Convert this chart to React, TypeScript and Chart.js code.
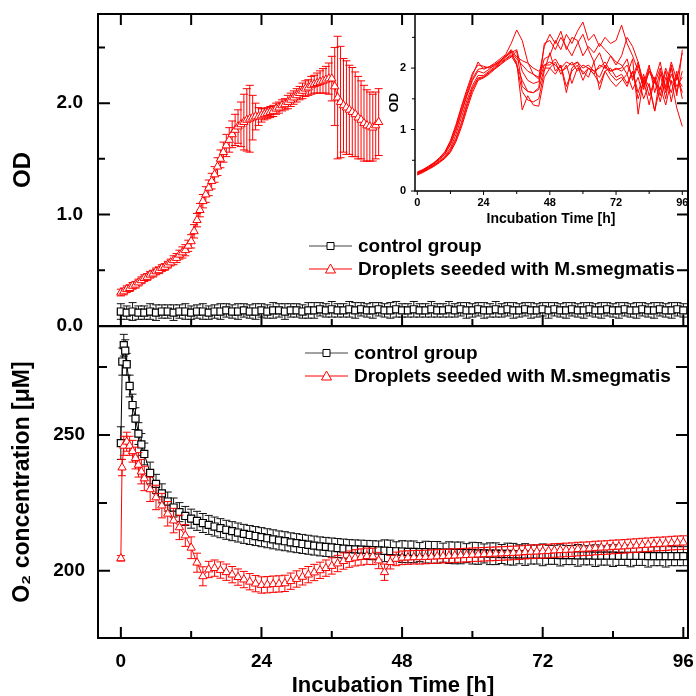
import React, { useEffect, useRef } from 'react';
import { Chart, registerables } from 'chart.js';

Chart.register(...registerables);

const FONT = "'Liberation Sans', Arial, Helvetica, sans-serif";
Chart.defaults.font.family = FONT;
Chart.defaults.color = '#000';

// ---------------- data ----------------
const hours = [
  0, 1, 2, 3, 4, 5, 6, 7, 8, 9, 10, 11, 12, 13, 14, 15, 16, 17, 18, 19, 20, 21, 22, 23, 24,
  25, 26, 27, 28, 29, 30, 31, 32, 33, 34, 35, 36, 37, 38, 39, 40, 41, 42, 43, 44, 45, 46, 47, 48,
  49, 50, 51, 52, 53, 54, 55, 56, 57, 58, 59, 60, 61, 62, 63, 64, 65, 66, 67, 68, 69, 70, 71, 72,
  73, 74, 75, 76, 77, 78, 79, 80, 81, 82, 83, 84, 85, 86, 87, 88, 89, 90, 91, 92, 93, 94, 95, 96,
];

// OD, control group (t = 0..96 h)
const odControl = [
  0.13, 0.12, 0.13, 0.12, 0.12, 0.13, 0.12, 0.13, 0.13, 0.12,
  0.13, 0.13, 0.12, 0.13, 0.13, 0.12, 0.13, 0.13, 0.14, 0.13,
  0.13, 0.14, 0.13, 0.13, 0.14, 0.13, 0.14, 0.14, 0.13, 0.14,
  0.14, 0.13, 0.14, 0.14, 0.15, 0.14, 0.15, 0.14, 0.14, 0.15,
  0.14, 0.15, 0.14, 0.14, 0.15, 0.14, 0.14, 0.15, 0.14, 0.14,
  0.15, 0.14, 0.14, 0.15, 0.14, 0.14, 0.15, 0.14, 0.15, 0.14,
  0.14, 0.15, 0.14, 0.14, 0.15, 0.14, 0.15, 0.14, 0.14, 0.15,
  0.14, 0.14, 0.15, 0.14, 0.15, 0.14, 0.14, 0.15, 0.14, 0.14,
  0.15, 0.14, 0.14, 0.15, 0.14, 0.14, 0.15, 0.14, 0.14, 0.15,
  0.14, 0.14, 0.15, 0.14, 0.14, 0.15, 0.14,
];
const odControlErr = [
  0.07, 0.06, 0.08, 0.06, 0.06, 0.07, 0.07, 0.06, 0.06, 0.07,
  0.06, 0.07, 0.06, 0.06, 0.07, 0.06, 0.06, 0.07, 0.06, 0.06,
  0.07, 0.06, 0.06, 0.07, 0.06, 0.06, 0.07, 0.06, 0.07, 0.06,
  0.06, 0.06, 0.07, 0.07, 0.06, 0.06, 0.07, 0.06, 0.06, 0.07,
  0.07, 0.06, 0.06, 0.07, 0.06, 0.06, 0.07, 0.07, 0.06, 0.06,
  0.07, 0.06, 0.06, 0.07, 0.06, 0.06, 0.07, 0.06, 0.06, 0.07,
  0.06, 0.06, 0.07, 0.06, 0.07, 0.06, 0.06, 0.07, 0.06, 0.06,
  0.07, 0.06, 0.06, 0.07, 0.06, 0.06, 0.07, 0.06, 0.06, 0.07,
  0.06, 0.06, 0.07, 0.06, 0.06, 0.07, 0.06, 0.06, 0.07, 0.06,
  0.06, 0.07, 0.06, 0.06, 0.07, 0.06, 0.06,
];

// OD, droplets seeded with M.smegmatis (t = 0..44 h, every 0.5 h)
const odDropletHours = [
  0, 0.5, 1, 1.5, 2, 2.5, 3, 3.5, 4, 4.5, 5, 5.5, 6, 6.5, 7, 7.5, 8, 8.5, 9, 9.5,
  10, 10.5, 11, 11.5, 12, 12.5, 13, 13.5, 14, 14.5, 15, 15.5, 16, 16.5, 17, 17.5, 18, 18.5, 19, 19.5,
  20, 20.5, 21, 21.5, 22, 22.5, 23, 23.5, 24, 24.5, 25, 25.5, 26, 26.5, 27, 27.5, 28, 28.5, 29, 29.5,
  30, 30.5, 31, 31.5, 32, 32.5, 33, 33.5, 34, 34.5, 35, 35.5, 36, 36.5, 37, 37.5, 38, 38.5, 39, 39.5,
  40, 40.5, 41, 41.5, 42, 42.5, 43, 43.5, 44,
];
const odDroplets = [
  0.30, 0.31, 0.33, 0.34, 0.36, 0.37, 0.39, 0.41, 0.43, 0.44,
  0.46, 0.47, 0.49, 0.50, 0.52, 0.53, 0.55, 0.57, 0.59, 0.61,
  0.64, 0.66, 0.68, 0.72, 0.76, 0.85, 0.95, 1.04, 1.12, 1.18,
  1.24, 1.30, 1.36, 1.43, 1.50, 1.56, 1.62, 1.67, 1.72, 1.76,
  1.79, 1.81, 1.83, 1.85, 1.86, 1.87, 1.88, 1.88, 1.89, 1.90,
  1.91, 1.92, 1.93, 1.95, 1.96, 1.98, 1.99, 2.01, 2.03, 2.05,
  2.07, 2.09, 2.11, 2.13, 2.14, 2.16, 2.17, 2.18, 2.19, 2.20,
  2.21, 2.22, 2.22, 2.15, 2.05, 2.01, 1.98, 1.96, 1.94, 1.92,
  1.90, 1.87, 1.85, 1.82, 1.80, 1.79, 1.78, 1.80, 1.83,
];
const odDropletsErr = [
  0.03, 0.03, 0.03, 0.03, 0.03, 0.03, 0.03, 0.03, 0.03, 0.03,
  0.03, 0.03, 0.03, 0.03, 0.03, 0.03, 0.03, 0.03, 0.04, 0.04,
  0.04, 0.05, 0.05, 0.05, 0.06, 0.06, 0.06, 0.06, 0.06, 0.07,
  0.07, 0.07, 0.07, 0.08, 0.08, 0.09, 0.10, 0.11, 0.12, 0.14,
  0.15, 0.20, 0.25, 0.28, 0.30, 0.20, 0.12, 0.08, 0.06, 0.05,
  0.05, 0.05, 0.05, 0.05, 0.05, 0.05, 0.05, 0.06, 0.06, 0.06,
  0.06, 0.06, 0.07, 0.07, 0.07, 0.08, 0.08, 0.09, 0.10, 0.11,
  0.12, 0.14, 0.20, 0.35, 0.55, 0.50, 0.42, 0.42, 0.40, 0.40,
  0.38, 0.37, 0.35, 0.34, 0.32, 0.31, 0.30, 0.30, 0.30,
];

// O2 concentration, control group
const o2ControlHours = [0, 0.25, 0.5, 0.75, 1, 1.5, 2, 2.5, 3, 3.5, 4, ...hours.slice(5)];
const o2Control = [
  247, 277, 283, 281, 276, 268, 261, 256, 250.5, 246.5, 243,
  236, 232, 228.5, 225.5, 223.3, 221.6, 220.2, 219.2, 218.4, 217.6,
  216.9, 216.3, 215.7, 215.1, 214.6, 214.1, 213.6, 213.2, 212.8, 212.4,
  212.0, 211.6, 211.2, 210.9, 210.5, 210.2, 209.9, 209.6, 209.3, 209.0,
  208.8, 208.6, 208.4, 208.2, 208.0, 207.9, 207.8, 207.7, 207.6, 207.5,
  207.4, 207.3, 207.2, 207.1, 207.0, 207.0, 206.9, 206.9, 206.8, 206.8,
  206.7, 206.7, 206.6, 206.6, 206.5, 206.5, 206.4, 206.4, 206.3, 206.3,
  206.2, 206.2, 206.1, 206.1, 206.0, 206.0, 206.0, 205.9, 205.9, 205.9,
  205.8, 205.8, 205.8, 205.7, 205.7, 205.7, 205.6, 205.6, 205.6, 205.6,
  205.5, 205.5, 205.5, 205.5, 205.5, 205.4, 205.4, 205.4, 205.4, 205.4,
  205.4, 205.4,
];
const o2ControlErr = [
  6, 5, 4, 4, 4, 4, 4, 4, 4, 4, 4,
  4, 3.5, 3.5, 3.5, 3.5, 3.5, 3.5, 3.5, 3.5, 3.5,
  3.5, 3.5, 3.5, 3.5, 3.5, 3.5, 3.5, 3.5, 3.5, 3.5,
  3.5, 3.5, 3.5, 3.5, 3.5, 3.5, 3.5, 3.5, 3.5, 3.5,
  3.5, 3.5, 3.5, 3.5, 3.5, 3.5, 3.5, 3.5, 3.5, 3.5,
  4, 4, 3.5, 4, 4, 4, 3.5, 4, 4, 4,
  3.5, 4, 4, 4, 3.5, 4, 4, 3.5, 4, 4,
  3.5, 4, 4, 3.5, 4, 3.5, 3.5, 4, 3.5, 3.5,
  4, 3.5, 3.5, 4, 3.5, 3.5, 4, 3.5, 3.5, 4,
  3.5, 3.5, 4, 3.5, 3.5, 4, 3.5, 3.5, 4, 3.5,
  3.5, 3.5,
];

// O2 concentration, droplets seeded with M.smegmatis
const o2DropletHours = [0, 0.2, 0.5, 1, 1.5, 2, 2.5, 3, 3.5, 4, ...hours.slice(5)];
const o2Droplets = [
  204.6, 238, 246, 247.5, 246, 244, 241.5, 239, 236.5, 234,
  230, 227, 224, 221, 218.5, 216, 213, 208.5, 203, 198,
  200.5, 201, 200.3, 199.5, 198.6, 197.7, 196.8, 196, 195.3, 194.8,
  194.9, 195.1, 195.2, 195.4, 196.2, 197, 197.8, 198.6, 199.4, 200.2,
  201, 201.8, 202.7, 203.6, 204.3, 204.8, 205.1, 205.4, 205.3, 203.8,
  199.5, 203.2, 204.4, 204.8, 204.9, 205.0, 205.0, 205.1, 205.2, 205.3,
  205.4, 205.5, 205.6, 205.7, 205.8, 205.9, 206.0, 206.1, 206.2, 206.3,
  206.4, 206.5, 206.6, 206.7, 206.9, 207.0, 207.1, 207.2, 207.3, 207.5,
  207.6, 207.7, 207.8, 208.0, 208.1, 208.2, 208.4, 208.5, 208.6, 208.8,
  208.9, 209.0, 209.2, 209.3, 209.5, 209.6, 209.8, 209.9, 210.0, 210.2,
  210.3, 210.4,
];
const o2DropletsErr = [
  1, 3, 3.5, 3.5, 3.5, 4, 4, 4.5, 4.5, 4.5,
  4.5, 4.5, 4.5, 4.5, 4.5, 4.5, 4, 4, 3.5, 3.5,
  3, 3, 3, 3, 3, 3, 3, 3, 3, 3,
  3, 3, 3, 3, 3, 3, 3, 3, 3, 3,
  3, 3, 3, 3, 3, 3, 3, 3, 3, 3,
  3, 2.5, 2.5, 2.5, 2.5, 2.5, 2.5, 2.5, 2.5, 2.5,
  2.5, 2.5, 2.5, 2.5, 2.5, 2.5, 2.5, 2.5, 2.5, 2.5,
  2.5, 2.5, 2.5, 2.5, 2.5, 2.5, 2.5, 2.5, 2.5, 2.5,
  2.5, 2.5, 2.5, 2.5, 2.5, 2.5, 2.5, 2.5, 2.5, 2.5,
  2.5, 2.5, 2.5, 2.5, 2.5, 2.5, 2.5, 2.5, 2.5, 2.5,
  2.5, 2.5,
];

// Inset: individual droplet OD curves (t = 0..96 h, every 2 h)
const insetHours = [
  0, 2, 4, 6, 8, 10, 12, 14, 16, 18, 20, 22, 24, 26, 28, 30, 32, 34, 36, 38, 40, 42, 44, 46, 48,
  50, 52, 54, 56, 58, 60, 62, 64, 66, 68, 70, 72, 74, 76, 78, 80, 82, 84, 86, 88, 90, 92, 94, 96,
];
const dropletA = [0.30, 0.34, 0.40, 0.46, 0.53, 0.63, 0.80, 1.05, 1.35, 1.62, 1.88, 2.10, 1.98, 2.02, 2.08, 2.15, 2.22, 2.40, 2.62, 2.45, 2.10, 1.90, 1.85, 2.35, 2.55, 2.40, 2.60, 2.30, 2.50, 2.45, 2.20, 2.35, 2.25, 2.40, 2.30, 2.20, 2.05, 2.20, 2.50, 2.35, 2.10, 1.75, 2.05, 1.60, 1.95, 1.70, 2.10, 1.80, 2.25];
const dropletB = [0.28, 0.33, 0.38, 0.44, 0.51, 0.60, 0.75, 0.98, 1.27, 1.55, 1.80, 1.95, 1.92, 1.98, 2.05, 2.12, 2.20, 2.28, 2.05, 1.62, 1.48, 1.45, 1.50, 1.95, 2.25, 1.95, 2.05, 1.60, 2.00, 2.10, 1.90, 2.00, 1.95, 1.85, 2.05, 1.90, 1.80, 1.85, 1.70, 1.95, 1.50, 1.80, 1.40, 1.85, 1.55, 1.95, 1.45, 1.90, 1.60];
const dropletC = [0.27, 0.32, 0.37, 0.42, 0.49, 0.57, 0.70, 0.92, 1.20, 1.48, 1.72, 1.88, 1.88, 1.95, 2.02, 2.10, 2.18, 2.25, 2.30, 1.95, 1.80, 1.75, 1.78, 2.05, 2.10, 2.05, 1.95, 2.00, 2.10, 1.95, 2.05, 2.00, 1.90, 2.05, 2.00, 1.95, 1.98, 2.00, 2.15, 1.80, 2.05, 1.65, 1.95, 1.75, 2.00, 1.60, 1.90, 1.70, 1.85];
const dropletD = [0.29, 0.33, 0.37, 0.42, 0.48, 0.55, 0.67, 0.86, 1.12, 1.42, 1.68, 1.84, 1.86, 1.93, 2.00, 2.08, 2.15, 2.22, 2.10, 1.32, 1.55, 1.40, 1.38, 1.85, 2.00, 2.10, 1.90, 2.05, 1.75, 2.00, 1.95, 1.85, 2.10, 1.65, 1.95, 2.00, 1.85, 1.90, 1.75, 1.95, 1.60, 1.90, 1.55, 1.80, 1.45, 1.85, 1.60, 1.95, 1.50];
const dropletE = [0.30, 0.34, 0.39, 0.45, 0.52, 0.61, 0.77, 1.01, 1.30, 1.58, 1.83, 1.98, 2.00, 2.02, 2.06, 2.12, 2.20, 2.26, 2.15, 2.05, 1.95, 1.90, 1.82, 2.15, 2.20, 2.45, 2.30, 2.55, 2.40, 2.60, 2.75, 2.45, 2.55, 2.35, 2.50, 2.40, 2.45, 2.70, 2.40, 2.20, 1.95, 1.70, 2.00, 1.80, 1.65, 2.00, 1.75, 1.85, 1.70];
const dropletF = [0.26, 0.30, 0.35, 0.40, 0.46, 0.53, 0.63, 0.80, 1.04, 1.33, 1.60, 1.80, 1.84, 1.90, 1.98, 2.05, 2.12, 2.18, 2.28, 1.70, 1.62, 1.60, 1.68, 2.40, 2.45, 2.30, 2.50, 2.35, 2.20, 2.40, 2.55, 2.30, 2.10, 2.25, 2.00, 2.20, 2.10, 2.05, 1.90, 2.15, 1.25, 1.85, 1.70, 1.30, 1.90, 1.50, 2.05, 1.60, 1.95];
const dropletG = [0.31, 0.35, 0.40, 0.46, 0.54, 0.64, 0.82, 1.08, 1.38, 1.66, 1.92, 2.05, 2.03, 2.00, 2.04, 2.10, 2.18, 2.30, 2.18, 2.12, 2.08, 2.00, 1.95, 2.05, 2.05, 2.15, 2.00, 2.10, 2.05, 2.10, 2.00, 2.05, 1.95, 2.00, 2.10, 1.95, 2.00, 1.95, 2.05, 1.85, 2.10, 1.70, 1.95, 1.80, 2.10, 1.65, 2.00, 1.55, 2.30];
const dropletH = [0.27, 0.31, 0.36, 0.41, 0.47, 0.54, 0.65, 0.83, 1.08, 1.38, 1.65, 1.82, 1.85, 1.92, 1.99, 2.06, 2.14, 2.20, 2.05, 1.80, 1.62, 1.60, 1.65, 2.00, 2.00, 1.90, 2.05, 1.70, 1.95, 2.05, 1.80, 2.00, 1.90, 1.75, 1.95, 1.80, 1.70, 1.80, 1.90, 1.65, 1.85, 1.50, 1.75, 1.30, 1.70, 1.40, 1.80, 1.35, 1.05];
const insetSeries = [dropletA, dropletB, dropletC, dropletD, dropletE, dropletF, dropletG, dropletH];

// tick values
const xMajorTicks = [0, 24, 48, 72, 96];
const xMinorTicks = [12, 36, 60, 84];
const odMajorTicks = [0, 1, 2];
const odMinorTicks = [0.5, 1.5, 2.5];
const o2MajorTicks = [200, 250];
const o2MinorTicks = [225, 275];

const seriesLabels = ['control group', 'Droplets seeded with M.smegmatis'];

// ---------------- helpers ----------------
const toXY = (xs: number[], ys: number[]) => ys.map((y, i) => ({ x: xs[i], y }));

type TickSpec = { axis: string; edge: 'top' | 'bottom' | 'left' | 'right'; values: number[]; len: number; out?: boolean };

function makeFramePlugin(sides: string[], lineWidth: number, tickWidth: number, ticks: TickSpec[]) {
  return {
    id: 'frame',
    afterDraw(chart: any) {
      const { ctx, chartArea: ca } = chart;
      ctx.save();
      ctx.strokeStyle = '#000';
      ctx.lineWidth = lineWidth;
      ctx.lineCap = 'square';
      ctx.beginPath();
      for (const s of sides) {
        if (s === 'left') { ctx.moveTo(ca.left, ca.top); ctx.lineTo(ca.left, ca.bottom); }
        if (s === 'right') { ctx.moveTo(ca.right, ca.top); ctx.lineTo(ca.right, ca.bottom); }
        if (s === 'top') { ctx.moveTo(ca.left, ca.top); ctx.lineTo(ca.right, ca.top); }
        if (s === 'bottom') { ctx.moveTo(ca.left, ca.bottom); ctx.lineTo(ca.right, ca.bottom); }
      }
      ctx.stroke();
      ctx.lineCap = 'butt';
      ctx.lineWidth = tickWidth;
      ctx.beginPath();
      for (const t of ticks) {
        const scale = chart.scales[t.axis];
        const sign = t.out ? -1 : 1;
        for (const v of t.values) {
          const p = scale.getPixelForValue(v);
          if (t.edge === 'top') { ctx.moveTo(p, ca.top); ctx.lineTo(p, ca.top + sign * t.len); }
          if (t.edge === 'bottom') { ctx.moveTo(p, ca.bottom); ctx.lineTo(p, ca.bottom - sign * t.len); }
          if (t.edge === 'left') { ctx.moveTo(ca.left, p); ctx.lineTo(ca.left + sign * t.len, p); }
          if (t.edge === 'right') { ctx.moveTo(ca.right, p); ctx.lineTo(ca.right - sign * t.len, p); }
        }
      }
      ctx.stroke();
      ctx.restore();
    },
  };
}

const errorBarPlugin = {
  id: 'errorBars',
  beforeDatasetDraw(chart: any, args: any) {
    const ds: any = chart.data.datasets[args.index];
    const errs: number[] | undefined = ds.errorValues;
    if (!errs) return;
    const meta = args.meta;
    const xs = chart.scales[meta.xAxisID];
    const ys = chart.scales[meta.yAxisID];
    const { ctx, chartArea: ca } = chart;
    const cap = 4;
    ctx.save();
    ctx.beginPath();
    ctx.rect(ca.left, ca.top, ca.right - ca.left, ca.bottom - ca.top);
    ctx.clip();
    ctx.strokeStyle = ds.errorColor;
    ctx.lineWidth = 1;
    ctx.beginPath();
    ds.data.forEach((p: any, i: number) => {
      const e = errs[i];
      const x = xs.getPixelForValue(p.x);
      const yt = ys.getPixelForValue(p.y + e);
      const yb = ys.getPixelForValue(p.y - e);
      ctx.moveTo(x, yt); ctx.lineTo(x, yb);
      ctx.moveTo(x - cap, yt); ctx.lineTo(x + cap, yt);
      ctx.moveTo(x - cap, yb); ctx.lineTo(x + cap, yb);
    });
    ctx.stroke();
    ctx.restore();
  },
};

function makeLegendPlugin(x: number, y: number, rowGap: number) {
  return {
    id: 'miniLegend',
    afterDraw(chart: any) {
      const ctx = chart.ctx;
      ctx.save();
      chart.data.datasets.forEach((ds: any, i: number) => {
        const yy = y + i * rowGap;
        const lineLen = 43;
        ctx.strokeStyle = ds.legendLineColor;
        ctx.lineWidth = 1;
        ctx.beginPath();
        ctx.moveTo(x, yy);
        ctx.lineTo(x + lineLen, yy);
        ctx.stroke();
        const cx = x + lineLen / 2;
        ctx.fillStyle = '#fff';
        ctx.strokeStyle = ds.pointBorderColor;
        ctx.beginPath();
        if (ds.pointStyle === 'rect') {
          ctx.rect(cx - 3.5, yy - 3.5, 7, 7);
        } else {
          ctx.moveTo(cx, yy - 5);
          ctx.lineTo(cx + 5, yy + 4);
          ctx.lineTo(cx - 5, yy + 4);
          ctx.closePath();
        }
        ctx.fill();
        ctx.stroke();
        ctx.fillStyle = '#000';
        ctx.font = `bold 19px ${FONT}`;
        ctx.textAlign = 'left';
        ctx.textBaseline = 'middle';
        ctx.fillText(ds.label, x + lineLen + 6, yy + 1);
      });
      ctx.restore();
    },
  };
}

const controlStyle = {
  borderColor: '#000',
  borderWidth: 1,
  pointStyle: 'rect',
  pointRadius: 5,
  pointBorderWidth: 1.2,
  pointBackgroundColor: '#fff',
  pointBorderColor: '#000',
  errorColor: '#111',
  legendLineColor: '#444',
  tension: 0,
  order: 1,
};
const dropletStyle = {
  borderColor: '#ff0000',
  borderWidth: 1,
  pointStyle: 'triangle',
  pointRadius: 4.8,
  pointBorderWidth: 1,
  pointBackgroundColor: '#fff',
  pointBorderColor: '#ff0000',
  errorColor: '#ff0000',
  legendLineColor: '#ff0000',
  tension: 0,
  order: 0,
};

const mainXLabel = (v: any) => (xMajorTicks.includes(v) ? String(v) : '');
const boldFont = (size: number) => ({ size, weight: 'bold' as const, family: FONT });
const fixY = (w: number) => (s: any) => { s.width = w; s.paddingTop = 0; s.paddingBottom = 0; };
const fixX = (h: number) => (s: any) => { s.height = h; s.paddingLeft = 0; s.paddingRight = 0; };

function topConfig(): any {
  return {
    type: 'line',
    data: {
      datasets: [
        { label: seriesLabels[0], data: toXY(hours, odControl), errorValues: odControlErr, ...controlStyle },
        { label: seriesLabels[1], data: toXY(odDropletHours, odDroplets), errorValues: odDropletsErr, ...dropletStyle },
      ],
    },
    options: {
      responsive: false,
      maintainAspectRatio: false,
      animation: false,
      events: [],
      layout: { padding: { left: 0, right: 8, top: 14, bottom: 14 } },
      plugins: { legend: { display: false }, tooltip: { enabled: false } },
      scales: {
        x: { type: 'linear', min: -3.9, max: 96.8, display: false },
        y: {
          type: 'linear',
          min: 0,
          max: 2.8,
          afterFit: fixY(98),
          grid: { display: false, drawTicks: false },
          border: { display: false },
          ticks: {
            stepSize: 0.5,
            includeBounds: false,
            autoSkip: false,
            padding: 15,
            color: '#000',
            font: boldFont(19),
            callback: (v: any) => (odMajorTicks.includes(v) ? Number(v).toFixed(1) : ''),
          },
          title: { display: true, text: 'OD', color: '#000', font: boldFont(24), padding: { top: 9, bottom: 0 } },
        },
      },
    },
    plugins: [
      errorBarPlugin,
      makeFramePlugin(['left', 'right', 'top', 'bottom'], 2, 2, [
        { axis: 'x', edge: 'top', values: xMajorTicks, len: 11 },
        { axis: 'x', edge: 'top', values: xMinorTicks, len: 11 },
        { axis: 'x', edge: 'bottom', values: xMajorTicks, len: 11 },
        { axis: 'x', edge: 'bottom', values: xMinorTicks, len: 7 },
        { axis: 'y', edge: 'left', values: odMajorTicks, len: 12 },
        { axis: 'y', edge: 'left', values: odMinorTicks, len: 7 },
        { axis: 'y', edge: 'right', values: odMajorTicks, len: 11 },
        { axis: 'y', edge: 'right', values: odMinorTicks, len: 11 },
      ]),
      makeLegendPlugin(309, 246, 23),
    ],
  };
}

function bottomConfig(): any {
  return {
    type: 'line',
    data: {
      datasets: [
        { label: seriesLabels[0], data: toXY(o2ControlHours, o2Control), errorValues: o2ControlErr, ...controlStyle },
        { label: seriesLabels[1], data: toXY(o2DropletHours, o2Droplets), errorValues: o2DropletsErr, ...dropletStyle },
      ],
    },
    options: {
      responsive: false,
      maintainAspectRatio: false,
      animation: false,
      events: [],
      layout: { padding: { left: 0, right: 8, top: 6, bottom: 0 } },
      plugins: { legend: { display: false }, tooltip: { enabled: false } },
      scales: {
        x: {
          type: 'linear',
          min: -3.9,
          max: 96.8,
          position: 'bottom',
          afterFit: fixX(62),
          grid: { display: false, drawTicks: false },
          border: { display: false },
          ticks: {
            stepSize: 12,
            includeBounds: false,
            autoSkip: false,
            maxRotation: 0,
            padding: 12,
            color: '#000',
            font: boldFont(19),
            callback: mainXLabel,
          },
          title: { display: true, text: 'Incubation Time [h]', color: '#000', font: boldFont(22), padding: { top: 0, bottom: 1 } },
        },
        y: {
          type: 'linear',
          min: 175.3,
          max: 290,
          afterFit: fixY(98),
          grid: { display: false, drawTicks: false },
          border: { display: false },
          ticks: {
            stepSize: 25,
            includeBounds: false,
            autoSkip: false,
            padding: 13,
            color: '#000',
            font: boldFont(19),
            callback: (v: any) => (o2MajorTicks.includes(v) ? String(v) : ''),
          },
          title: { display: true, text: 'O₂ concentration [μM]', color: '#000', font: boldFont(23), padding: { top: 9, bottom: 0 } },
        },
      },
    },
    plugins: [
      errorBarPlugin,
      makeFramePlugin(['left', 'right', 'top', 'bottom'], 2, 2, [
        { axis: 'x', edge: 'bottom', values: xMajorTicks, len: 11 },
        { axis: 'x', edge: 'bottom', values: xMinorTicks, len: 7 },
        { axis: 'y', edge: 'left', values: o2MajorTicks, len: 12 },
        { axis: 'y', edge: 'left', values: o2MinorTicks, len: 9 },
        { axis: 'y', edge: 'right', values: o2MajorTicks, len: 12 },
        { axis: 'y', edge: 'right', values: o2MinorTicks, len: 12 },
      ]),
      makeLegendPlugin(305, 33, 23),
    ],
  };
}

function insetConfig(): any {
  return {
    type: 'line',
    data: {
      datasets: insetSeries.map((vals) => ({
        data: toXY(insetHours, vals),
        borderColor: '#ff0000',
        borderWidth: 1,
        pointRadius: 0,
        tension: 0,
      })),
    },
    options: {
      responsive: false,
      maintainAspectRatio: false,
      animation: false,
      events: [],
      layout: { padding: { left: 0, right: 9, top: 14, bottom: 0 } },
      plugins: { legend: { display: false }, tooltip: { enabled: false } },
      scales: {
        x: {
          type: 'linear',
          min: -0.84,
          max: 97.7,
          afterFit: fixX(39),
          grid: { display: false, drawTicks: false },
          border: { display: false },
          ticks: {
            stepSize: 12,
            includeBounds: false,
            autoSkip: false,
            maxRotation: 0,
            padding: 5,
            color: '#000',
            font: boldFont(11),
            callback: mainXLabel,
          },
          title: { display: true, text: 'Incubation Time [h]', color: '#000', font: boldFont(14), padding: { top: 0, bottom: 2 } },
        },
        y: {
          type: 'linear',
          min: 0,
          max: 2.88,
          afterFit: fixY(35),
          grid: { display: false, drawTicks: false },
          border: { display: false },
          ticks: {
            stepSize: 0.5,
            includeBounds: false,
            autoSkip: false,
            padding: 9,
            color: '#000',
            font: boldFont(11),
            callback: (v: any) => (odMajorTicks.includes(v) ? String(v) : ''),
          },
          title: { display: true, text: 'OD', color: '#000', font: boldFont(13), padding: { top: 7, bottom: 0 } },
        },
      },
    },
    plugins: [
      makeFramePlugin(['left', 'bottom'], 1.5, 1, [
        { axis: 'x', edge: 'bottom', values: xMajorTicks, len: 4, out: true },
        { axis: 'x', edge: 'bottom', values: xMinorTicks, len: 3, out: true },
        { axis: 'y', edge: 'left', values: odMajorTicks, len: 4, out: true },
        { axis: 'y', edge: 'left', values: odMinorTicks, len: 3, out: true },
      ]),
    ],
  };
}

export default function App() {
  const topRef = useRef<HTMLCanvasElement>(null);
  const bottomRef = useRef<HTMLCanvasElement>(null);
  const insetRef = useRef<HTMLCanvasElement>(null);

  useEffect(() => {
    const charts = [
      new Chart(topRef.current as HTMLCanvasElement, topConfig()),
      new Chart(bottomRef.current as HTMLCanvasElement, bottomConfig()),
      new Chart(insetRef.current as HTMLCanvasElement, insetConfig()),
    ];
    return () => charts.forEach((c) => c.destroy());
  }, []);

  return (
    <div style={{ position: 'fixed', left: 0, top: 0, width: 696, height: 696, background: '#fff', overflow: 'hidden' }}>
      <canvas ref={topRef} width={696} height={340} style={{ position: 'absolute', left: 0, top: 0, width: 696, height: 340 }} />
      <canvas ref={bottomRef} width={696} height={380} style={{ position: 'absolute', left: 0, top: 320, width: 696, height: 380 }} />
      <canvas ref={insetRef} width={316} height={230} style={{ position: 'absolute', left: 380, top: 0, width: 316, height: 230 }} />
    </div>
  );
}
